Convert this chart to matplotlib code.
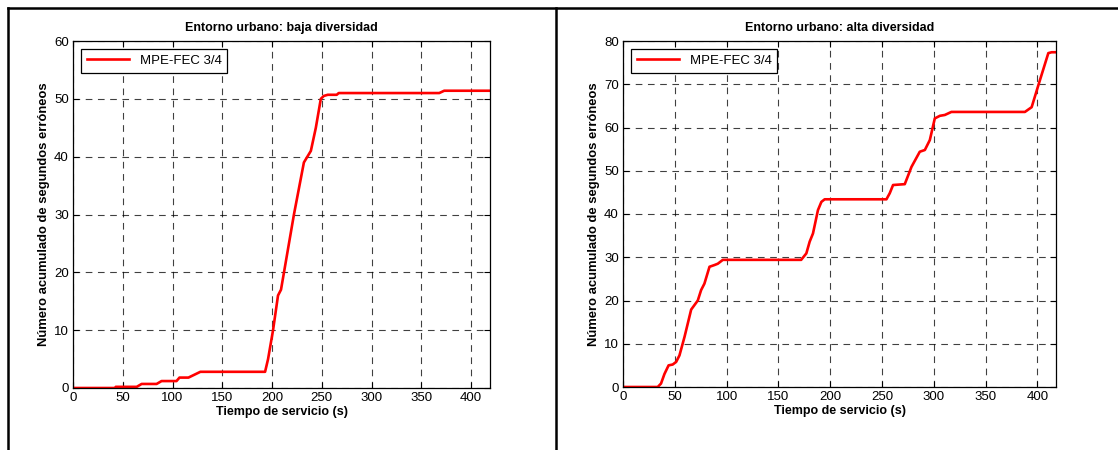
import numpy as np
import matplotlib.pyplot as plt
from matplotlib.lines import Line2D

plt.rcParams['font.family'] = ['Liberation Sans', 'DejaVu Sans']

# Entorno urbano: baja diversidad
t_baja = [0, 42, 43, 64, 69, 84, 89, 104, 107, 116, 122, 128, 193, 196, 201,
          206, 209, 219, 222, 232, 239, 244, 249, 252, 256, 265, 267, 368, 373, 420]
e_baja = [0, 0, 0.2, 0.2, 0.7, 0.7, 1.2, 1.2, 1.8, 1.8, 2.3, 2.8, 2.8, 5, 10,
          16, 17, 27, 30, 39, 41, 45, 50, 50.5, 50.7, 50.7, 51.0, 51.0, 51.4, 51.4]

# Entorno urbano: alta diversidad
t_alta = [0, 33.5, 36.7, 40, 44, 48, 51.3, 54.5, 59.4, 65.8, 72.2, 75.4, 78.6,
          83.5, 88.3, 91.5, 96.4, 100, 172, 177, 180.2, 183.4, 188.2, 191.5,
          194.7, 254.3, 257.5, 260.7, 272, 278.5, 286.5, 291.4, 296.2, 301,
          305.9, 310.7, 317, 388, 394.5, 401, 410.6, 413.8, 418]
e_alta = [0, 0, 0.8, 3, 5, 5.2, 5.8, 7.3, 11.6, 17.9, 20, 22.4, 23.9,
          27.8, 28.2, 28.5, 29.4, 29.4, 29.4, 30.9, 33.6, 35.5, 40.9, 42.8,
          43.4, 43.4, 44.8, 46.7, 46.9, 50.9, 54.4, 54.8, 57.1, 62.1,
          62.7, 62.9, 63.6, 63.6, 64.7, 69.8, 77.2, 77.4, 77.4]

titles = ['Entorno urbano: baja diversidad', 'Entorno urbano: alta diversidad']
ylims = [60, 80]
xmaxs = [419, 418]

W, H = 1118, 450
fig = plt.figure(figsize=(W / 100, H / 100), dpi=100)

# outer frame lines
fig.add_artist(Line2D([8 / W, 1], [1 - 7.5 / H] * 2, color='black', lw=1.8))
fig.add_artist(Line2D([8 / W] * 2, [0, 1 - 7.5 / H], color='black', lw=1.8))
fig.add_artist(Line2D([555.5 / W] * 2, [0, 1 - 7.5 / H], color='black', lw=1.8))

boxes = [(73, 41, 490, 388), (623, 41, 1056, 387)]
data = [(t_baja, e_baja), (t_alta, e_alta)]

for i in range(2):
    x0, y0, x1, y1 = boxes[i]
    ax = fig.add_axes([x0 / W, 1 - y1 / H, (x1 - x0) / W, (y1 - y0) / H])
    t, e = data[i]
    ax.plot(t, e, color='red', lw=1.9, label='MPE-FEC 3/4')
    ax.set_xlim(0, xmaxs[i])
    ax.set_ylim(0, ylims[i])
    ax.set_xticks(np.arange(0, 401, 50))
    ax.set_yticks(np.arange(0, ylims[i] + 1, 10))
    ax.grid(True, color='black', linestyle=(0, (6, 5)), lw=0.8, alpha=0.75)
    ax.tick_params(direction='in', top=True, right=True, labelsize=9.5,
                   length=4, pad=3)
    for s in ax.spines.values():
        s.set_linewidth(0.9)
    ax.set_title(titles[i], fontsize=9, fontweight='bold', pad=7)
    ax.set_xlabel('Tiempo de servicio (s)', fontsize=9, fontweight='bold',
                  labelpad=1)
    ax.set_ylabel('Número acumulado de segundos erróneos', fontsize=9.4,
                  fontweight='bold', labelpad=3)
    leg = ax.legend(loc='upper left', fontsize=9.5, fancybox=False,
                    framealpha=1, edgecolor='black', handlelength=3.2,
                    borderaxespad=0.6, borderpad=0.45)
    leg.get_frame().set_linewidth(0.9)

fig.savefig('out.png', dpi=100)
